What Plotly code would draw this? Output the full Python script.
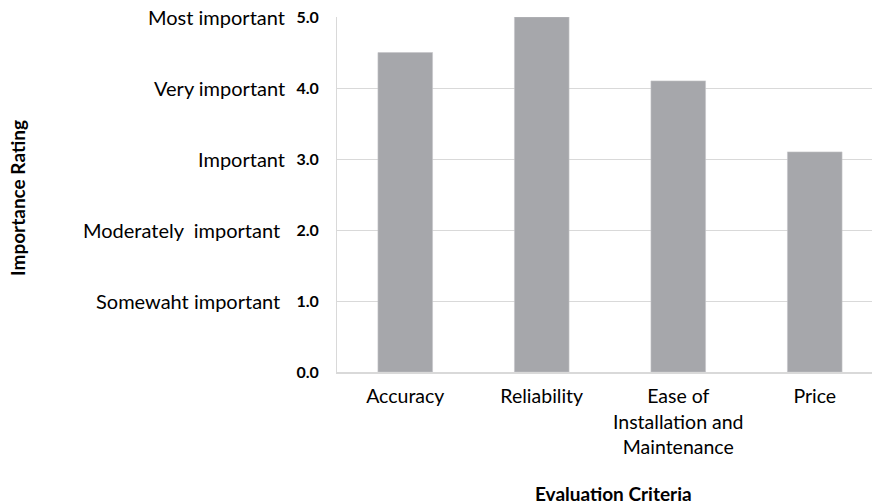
import plotly.graph_objects as go

# Evaluation criteria and their mean importance ratings
criteria = ["Accuracy", "Reliability", "Ease of<br>Installation and<br>Maintenance", "Price"]
ratings = [4.5, 5.0, 4.1, 3.1]

# Rating scale: numeric ticks and their verbal meaning
scale_values = [0, 1, 2, 3, 4, 5]
scale_ticks = ["0.0", "1.0", "2.0", "3.0", "4.0", "5.0"]
scale_words = ["Somewaht important", "Moderately\u00a0 important", "Important",
               "Very important", "Most important"]
scale_word_values = [1, 2, 3, 4, 5]

W, H = 872, 504
ML, MR, MT, MB = 337, 0, 17, 132
plot_w = W - ML - MR

FONT = "Lato, 'Open Sans', sans-serif"
BAR = "#A6A7AB"
GRID = "#D9D9D9"

fig = go.Figure(
    go.Bar(
        x=list(range(len(criteria))),
        y=ratings,
        marker=dict(color=BAR, line=dict(color="#C4C5C8", width=0.6)),
        width=0.4,
        hoverinfo="y",
    )
)

# Verbal labels to the left of the numeric tick labels
word_right = {1: 282, 2: 282, 3: 287, 4: 287, 5: 287}
for v, w in zip(scale_word_values, scale_words):
    fig.add_annotation(
        text=w, xref="paper", yref="y",
        x=(word_right[v] - ML) / plot_w, y=v,
        xanchor="right", yanchor="middle", showarrow=False,
        font=dict(family=FONT, size=20, color="#000000"),
    )

# Axis titles
fig.add_annotation(
    text="<b>Importance Rating</b>", xref="paper", yref="paper",
    x=(17 - ML) / plot_w, y=(H - MB - 198) / (H - MT - MB), textangle=-90,
    xanchor="center", yanchor="middle", showarrow=False,
    font=dict(family=FONT, size=19, color="#000000"),
)
fig.add_annotation(
    text="<b>Evaluation Criteria</b>", xref="paper", yref="paper",
    x=(613 - ML) / plot_w, y=-(493 - (H - MB)) / (H - MT - MB),
    xanchor="center", yanchor="middle", showarrow=False,
    font=dict(family=FONT, size=19, color="#000000"),
)

fig.update_layout(
    width=W, height=H,
    margin=dict(l=ML, r=MR, t=MT, b=MB, pad=0),
    plot_bgcolor="white", paper_bgcolor="white",
    showlegend=False,
    bargap=0.6,
    xaxis=dict(
        tickmode="array", tickvals=list(range(len(criteria))), ticktext=criteria,
        range=[-0.5, -0.5 + plot_w / 136.5],
        showgrid=False, zeroline=False,
        showline=True, linecolor=GRID, linewidth=2,
        ticks="", ticklabelstandoff=6,
        tickfont=dict(family=FONT, size=19.5, color="#000000"),
        fixedrange=True,
    ),
    yaxis=dict(
        range=[0, 5],
        tickmode="array", tickvals=scale_values,
        ticktext=["<b>%s</b>" % t for t in scale_ticks],
        showgrid=True, gridcolor=GRID, gridwidth=1,
        zeroline=False,
        showline=True, linecolor=GRID, linewidth=1,
        ticks="", ticklabelstandoff=14,
        tickfont=dict(family=FONT, size=16, color="#000000"),
        fixedrange=True,
    ),
)

fig.write_html("out.html")
